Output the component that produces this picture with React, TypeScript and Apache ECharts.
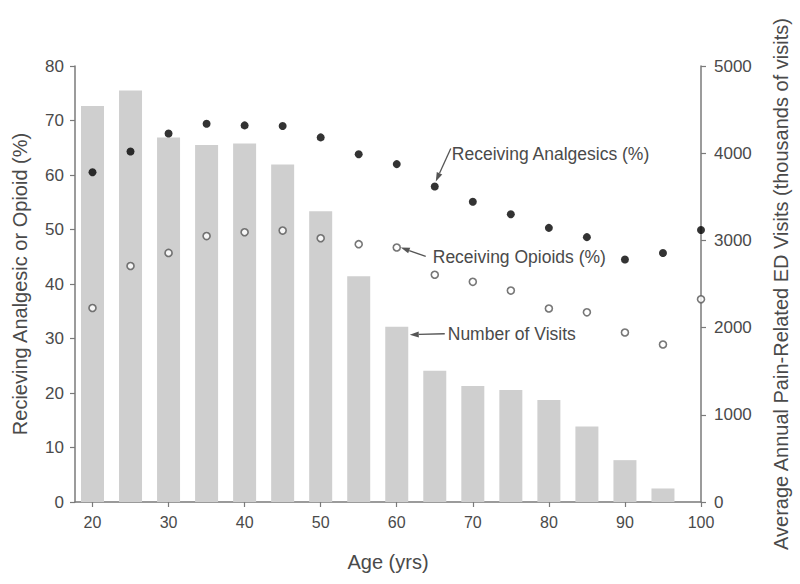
import React, { useEffect, useRef } from "react";
import * as echarts from "echarts";

const barAges = [20, 25, 30, 35, 40, 45, 50, 55, 60, 65, 70, 75, 80, 85, 90, 95];
const visits = [4540, 4720, 4180, 4095, 4110, 3870, 3335, 2590, 2010, 1505, 1330, 1285, 1170, 865, 480, 155];
const pctAges = [20, 25, 30, 35, 40, 45, 50, 55, 60, 65, 70, 75, 80, 85, 90, 95, 100];
const analgesics = [60.5, 64.3, 67.6, 69.4, 69.1, 69.0, 66.9, 63.8, 62.0, 57.9, 55.1, 52.8, 50.3, 48.6, 44.5, 45.7, 49.9];
const opioids = [35.6, 43.3, 45.7, 48.8, 49.5, 49.8, 48.4, 47.3, 46.7, 41.7, 40.4, 38.8, 35.5, 34.8, 31.1, 28.9, 37.2];
const xTicks = [20, 30, 40, 50, 60, 70, 80, 90, 100];

const FONT = "Liberation Sans, Arial, sans-serif";
const TXT = "#4a4a4a";
const AX = "#7a7a7a";

function arrow(tail: number[], tip: number[]) {
  const dx = tip[0] - tail[0];
  const dy = tip[1] - tail[1];
  const L = Math.sqrt(dx * dx + dy * dy);
  const ux = dx / L, uy = dy / L;
  const len = 9, hw = 3;
  const bx = tip[0] - ux * len, by = tip[1] - uy * len;
  return [
    { type: "line", shape: { x1: tail[0], y1: tail[1], x2: bx, y2: by }, style: { stroke: "#555", lineWidth: 1.3 }, silent: true },
    {
      type: "polygon",
      shape: { points: [[tip[0], tip[1]], [bx - uy * hw, by + ux * hw], [bx + uy * hw, by - ux * hw]] },
      style: { fill: "#555" },
      silent: true,
    },
  ];
}

export default function App() {
  const ref = useRef<HTMLDivElement>(null);
  useEffect(() => {
    const chart = echarts.init(ref.current!, null, { renderer: "svg" });
    const axisCommon = {
      axisLine: { show: true, lineStyle: { color: AX, width: 1.5 } },
      axisTick: { show: true, inside: false, length: 5, lineStyle: { color: AX, width: 1.2 } },
      splitLine: { show: false },
      nameTextStyle: { color: TXT, fontSize: 20, fontFamily: FONT },
    };
    chart.setOption({
      animation: false,
      backgroundColor: "#fff",
      grid: { left: 75, right: 99, top: 66, bottom: 82, containLabel: false },
      xAxis: {
        type: "value",
        min: 17.7,
        max: 100,
        name: "Age (yrs)",
        nameLocation: "middle",
        nameGap: 50,
        ...axisCommon,
        axisLine: { show: true, onZero: false, lineStyle: { color: AX, width: 1.5 } },
        axisTick: { show: true, length: 5, customValues: xTicks, lineStyle: { color: AX, width: 1.2 } },
        axisLabel: { color: TXT, fontSize: 16, fontFamily: FONT, margin: 12, customValues: xTicks },
      },
      yAxis: [
        {
          type: "value",
          min: 0,
          max: 80,
          interval: 10,
          position: "left",
          name: "Recieving Analgesic or Opioid (%)",
          nameLocation: "middle",
          nameGap: 45,
          ...axisCommon,
          axisLabel: { color: TXT, fontSize: 17, fontFamily: FONT, margin: 11 },
        },
        {
          type: "value",
          min: 0,
          max: 5000,
          interval: 1000,
          position: "right",
          name: "Average Annual Pain-Related ED Visits (thousands of visits)",
          nameLocation: "middle",
          nameGap: 70,
          nameRotate: 90,
          ...axisCommon,
          axisLabel: { color: TXT, fontSize: 17, fontFamily: FONT, margin: 13, formatter: (v: number) => String(v) },
        },
      ],
      series: [
        {
          type: "bar",
          name: "Number of Visits",
          yAxisIndex: 1,
          barWidth: 23,
          itemStyle: { color: "#cfcfcf" },
          data: barAges.map((a, i) => [a, visits[i]]),
        },
        {
          type: "scatter",
          name: "Receiving Analgesics (%)",
          yAxisIndex: 0,
          symbol: "circle",
          symbolSize: 8,
          itemStyle: { color: "#000" },
          data: pctAges.map((a, i) => [a, analgesics[i]]),
        },
        {
          type: "scatter",
          name: "Receiving Opioids (%)",
          yAxisIndex: 0,
          symbol: "circle",
          symbolSize: 7,
          itemStyle: { color: "#fff", borderColor: "#555", borderWidth: 1.6 },
          data: pctAges.map((a, i) => [a, opioids[i]]),
        },
      ],
    });

    const px = (x: number, y: number, yi: number) =>
      chart.convertToPixel({ xAxisIndex: 0, yAxisIndex: yi } as any, [x, y]) as number[];
    const pA = px(65, analgesics[9], 0);
    const pO = px(60, opioids[8], 0);
    const pV = px(60, visits[8], 1);
    const textStyle = { fill: TXT, fontSize: 17.5, fontFamily: FONT, verticalAlign: "middle", align: "left" };
    chart.setOption({
      graphic: [
        ...arrow([pA[0] + 16, pA[1] - 38], [pA[0] + 1, pA[1] - 5]),
        { type: "text", x: pA[0] + 17, y: pA[1] - 32, style: { text: "Receiving Analgesics (%)", ...textStyle } },
        ...arrow([pO[0] + 29, pO[1] + 9], [pO[0] + 4, pO[1]]),
        { type: "text", x: pO[0] + 36, y: pO[1] + 10, style: { text: "Receiving Opioids (%)", ...textStyle } },
        ...arrow([pV[0] + 48, pV[1] + 7], [pV[0] + 13, pV[1] + 8]),
        { type: "text", x: pV[0] + 51, y: pV[1] + 7, style: { text: "Number of Visits", ...textStyle } },
      ],
    });
    return () => chart.dispose();
  }, []);
  return <div ref={ref} style={{ position: "fixed", left: 0, top: 0, width: 800, height: 584 }} />;
}
